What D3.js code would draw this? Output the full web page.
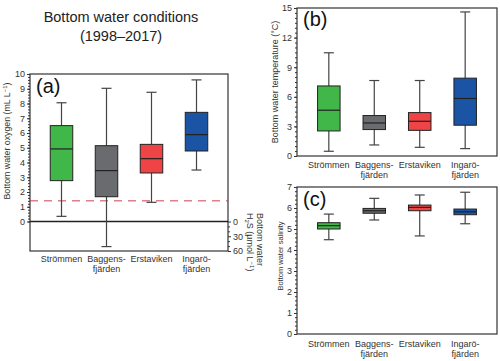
<!DOCTYPE html>
<html>
<head>
<meta charset="utf-8">
<script src="https://cdn.jsdelivr.net/npm/d3@7"></script>
<style>
  body { margin: 0; background: #fff; }
  svg { display: block; font-family: "Liberation Sans", Arial, sans-serif; }
  .axis path { stroke: #333; }
  .axis line { stroke: #333; }
  .axis text { fill: #333; font-size: 9px; }
</style>
</head>
<body>
<svg width="500" height="361"></svg>
<script>
// sites and box stats: [min, q1, median, q3, max]
var sites = ["Strömmen", "Baggens-|fjärden", "Erstaviken", "Ingarö-|fjärden"];
var colors = ["#41b649", "#696b6e", "#ee4445", "#1c54a5"];

// oxygen in mL/L, negative part = H2S (shown on right axis)
var oxygen = [
  [0.35, 2.77, 4.92, 6.5, 8.05],
  [-1.7, 1.68, 3.45, 5.14, 9.03],
  [1.3, 3.29, 4.26, 5.23, 8.76],
  [3.49, 4.78, 5.89, 7.4, 9.6]
];
var temperature = [
  [0.48, 2.54, 4.64, 7.1, 10.46],
  [1.12, 2.68, 3.35, 4.1, 7.65],
  [0.88, 2.6, 3.52, 4.4, 7.65],
  [0.75, 3.12, 5.83, 7.89, 14.6]
];
var salinity = [
  [4.49, 5.0, 5.16, 5.3, 5.71],
  [5.43, 5.75, 5.87, 5.98, 6.46],
  [4.67, 5.87, 6.03, 6.14, 6.62],
  [5.25, 5.68, 5.82, 5.95, 6.75]
];

var oxyTicks = [0,1,2,3,4,5,6,7,8,9,10];
var h2sTicks = [0, 30, 60];
var tempTicks = [0, 3, 6, 9, 12, 15];
var salTicks = [0,1,2,3,4,5,6,7];
var hypoxia = 1.4;

var svg = d3.select("svg");

// title
svg.append("text").attr("x", 121).attr("y", 22).attr("text-anchor", "middle")
  .attr("font-size", "14.5px").attr("fill", "#222").text("Bottom water conditions");
svg.append("text").attr("x", 121).attr("y", 41).attr("text-anchor", "middle")
  .attr("font-size", "14.5px").attr("fill", "#222").text("(1998–2017)");

function minorTicks(lo, hi, step) {
  var out = [];
  for (var v = lo; v <= hi + 1e-9; v += step) out.push(+v.toFixed(3));
  return out;
}

function panel(o) {
  var x = d3.scalePoint().domain(sites).range([o.left, o.right]).padding(0.7);
  var y = d3.scaleLinear().domain(o.domain).range([o.bottom, o.top]);
  var g = svg.append("g");

  // minor ticks
  g.append("g").attr("class", "axis")
    .attr("transform", "translate(" + o.left + ",0)")
    .call(d3.axisLeft(y).tickValues(minorTicks(o.ticks[0], o.ticks[o.ticks.length - 1], o.minor)).tickSize(2).tickFormat(""))
    .select(".domain").remove();
  g.append("g").attr("class", "axis")
    .attr("transform", "translate(" + o.left + ",0)")
    .call(d3.axisLeft(y).tickValues(o.ticks).tickSize(3).tickPadding(2).tickFormat(d3.format("d")))
    .select(".domain").remove();

  // frame
  g.append("rect").attr("x", o.left).attr("y", o.top)
    .attr("width", o.right - o.left).attr("height", o.bottom - o.top)
    .attr("fill", "none").attr("stroke", "#333").attr("stroke-width", 1.2);

  if (o.extra) o.extra(g, x, y);

  var bw = 22.5, cw = 10;
  var box = g.selectAll(".box").data(o.data).enter().append("g").attr("class", "box");
  box.append("line")
    .attr("x1", function(d, i) { return x(sites[i]); })
    .attr("x2", function(d, i) { return x(sites[i]); })
    .attr("y1", function(d) { return y(d[0]); })
    .attr("y2", function(d) { return y(d[4]); })
    .attr("stroke", "#444").attr("stroke-width", 1.2);
  [0, 4].forEach(function(k) {
    box.append("line")
      .attr("x1", function(d, i) { return x(sites[i]) - cw / 2; })
      .attr("x2", function(d, i) { return x(sites[i]) + cw / 2; })
      .attr("y1", function(d) { return y(d[k]); })
      .attr("y2", function(d) { return y(d[k]); })
      .attr("stroke", "#444").attr("stroke-width", 1.2);
  });
  box.append("rect")
    .attr("x", function(d, i) { return x(sites[i]) - bw / 2; })
    .attr("y", function(d) { return y(d[3]); })
    .attr("width", bw)
    .attr("height", function(d) { return y(d[1]) - y(d[3]); })
    .attr("fill", function(d, i) { return colors[i]; })
    .attr("stroke", "#222").attr("stroke-width", 1);
  box.append("line")
    .attr("x1", function(d, i) { return x(sites[i]) - bw / 2; })
    .attr("x2", function(d, i) { return x(sites[i]) + bw / 2; })
    .attr("y1", function(d) { return y(d[2]); })
    .attr("y2", function(d) { return y(d[2]); })
    .attr("stroke", "#222").attr("stroke-width", 1.2);

  // category labels
  var lab = g.selectAll(".cat").data(sites).enter().append("text")
    .attr("class", "cat")
    .attr("text-anchor", "middle").attr("font-size", "9px").attr("fill", "#333")
    .attr("transform", function(d) { return "translate(" + x(d) + "," + (o.bottom + o.labelGap) + ")"; });
  lab.selectAll("tspan").data(function(d) { return d.split("|"); }).enter().append("tspan")
    .attr("x", 0).attr("y", function(d, i) { return i * 10; }).text(function(d) { return d; });

  // y label
  var yl = svg.append("text").attr("text-anchor", "middle").attr("font-size", o.ylabSize).attr("fill", "#333")
    .attr("transform", "translate(" + o.ylabX + "," + o.ylabY + ") rotate(-90)");
  o.ylab(yl);

  // panel letter
  svg.append("text").attr("x", o.left + 6).attr("y", o.letterY)
    .attr("font-size", "20px").attr("fill", "#111").text(o.letter);
}

panel({
  left: 30, right: 228, top: 74, bottom: 251,
  domain: [-2, 10], ticks: oxyTicks, minor: 0.2, data: oxygen,
  labelGap: 11, letter: "(a)", letterY: 93,
  ylabX: 10, ylabY: 141, ylabSize: "8.8px",
  ylab: function(t) {
    t.text("Bottom water oxygen (mL L");
    t.append("tspan").attr("font-size", "6px").attr("dy", "-3").text("−1");
    t.append("tspan").attr("dy", "3").text(")");
  },
  extra: function(g, x, y) {
    // hypoxia threshold
    g.append("line").attr("x1", 30).attr("x2", 228)
      .attr("y1", y(hypoxia)).attr("y2", y(hypoxia))
      .attr("stroke", "#cc4050").attr("stroke-width", 1).attr("stroke-dasharray", "8,6");
    // zero line
    g.append("line").attr("x1", 30).attr("x2", 228)
      .attr("y1", y(0)).attr("y2", y(0))
      .attr("stroke", "#222").attr("stroke-width", 1.3);
    // H2S axis on the right
    var h = d3.scaleLinear().domain([0, 60]).range([y(0), y(-2)]);
    g.append("g").attr("class", "axis").attr("transform", "translate(228,0)")
      .call(d3.axisRight(h).tickValues([10, 20, 40, 50]).tickSize(2).tickFormat(""))
      .select(".domain").remove();
    g.append("g").attr("class", "axis").attr("transform", "translate(228,0)")
      .call(d3.axisRight(h).tickValues(h2sTicks).tickSize(3).tickPadding(2))
      .select(".domain").remove();
    var t = svg.append("text").attr("font-size", "9px").attr("fill", "#333")
      .attr("transform", "translate(257,213) rotate(90)");
    t.append("tspan").attr("x", 0).attr("y", 0).text("Bottom water");
    t.append("tspan").attr("x", 0).attr("y", 10).text("H");
    t.append("tspan").attr("font-size", "6px").attr("dy", "2").text("2");
    t.append("tspan").attr("dy", "-2").text("S (µmol L");
    t.append("tspan").attr("font-size", "6px").attr("dy", "-3").text("−1");
    t.append("tspan").attr("dy", "3").text(")");
  }
});

panel({
  left: 297, right: 497, top: 8, bottom: 156,
  domain: [0, 15], ticks: tempTicks, minor: 0.5, data: temperature,
  labelGap: 12, letter: "(b)", letterY: 26,
  ylabX: 278, ylabY: 82, ylabSize: "9px",
  ylab: function(t) { t.text("Bottom water temperature (°C)"); }
});

panel({
  left: 297, right: 497, top: 187, bottom: 334,
  domain: [0, 7], ticks: salTicks, minor: 0.2, data: salinity,
  labelGap: 13, letter: "(c)", letterY: 206,
  ylabX: 283, ylabY: 256, ylabSize: "7.5px",
  ylab: function(t) { t.text("Bottom water salinity"); }
});
</script>
</body>
</html>
